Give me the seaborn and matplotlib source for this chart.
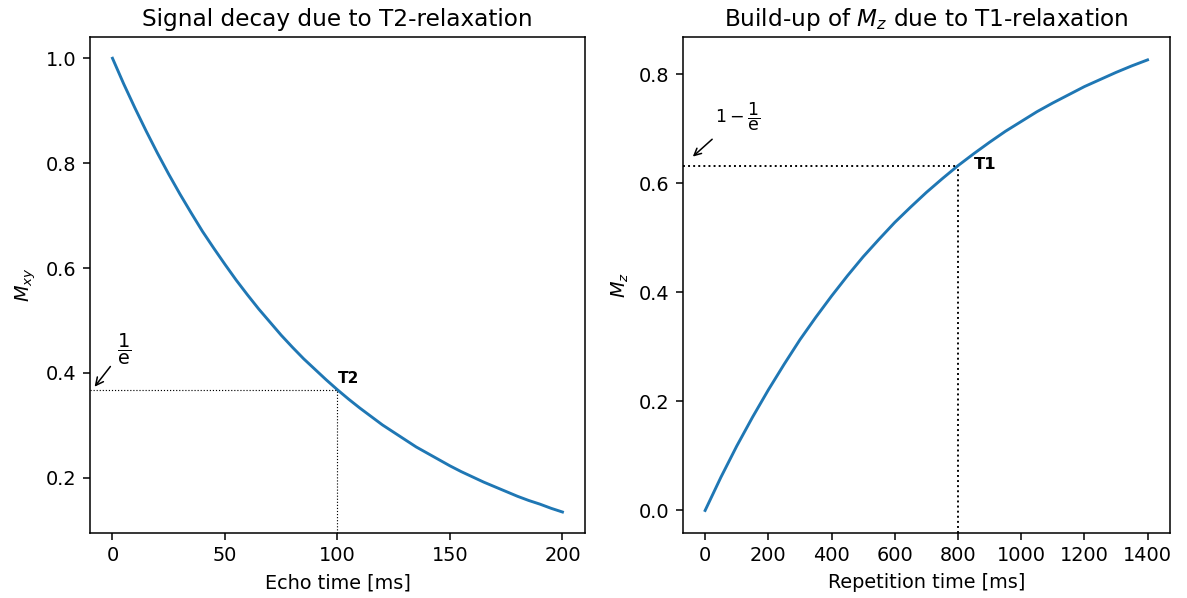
import matplotlib
matplotlib.use("Agg")
import matplotlib.pyplot as plt
import seaborn as sns
import pandas as pd

# Left panel: T2 decay
echo_time = [0, 5, 10, 15, 20, 25, 30, 35, 40, 45, 50, 55, 60, 65, 70, 75, 80, 85, 90, 95, 100,
             105, 110, 115, 120, 125, 130, 135, 140, 145, 150, 155, 160, 165, 170, 175, 180,
             185, 190, 195, 200]
m_xy = [1.000, 0.951, 0.905, 0.861, 0.819, 0.779, 0.741, 0.705, 0.670, 0.638, 0.607,
        0.577, 0.549, 0.522, 0.497, 0.472, 0.449, 0.427, 0.407, 0.387, 0.368,
        0.350, 0.333, 0.317, 0.301, 0.287, 0.273, 0.259, 0.247, 0.235, 0.223,
        0.212, 0.202, 0.192, 0.183, 0.174, 0.165, 0.157, 0.150, 0.142, 0.135]
T2 = 100
T2_level = 0.368

# Right panel: T1 recovery
rep_time = [0, 50, 100, 150, 200, 250, 300, 350, 400, 450, 500, 550, 600, 650, 700, 750, 800,
            850, 900, 950, 1000, 1050, 1100, 1150, 1200, 1250, 1300, 1350, 1400]
m_z = [0.000, 0.061, 0.118, 0.171, 0.221, 0.268, 0.313, 0.354, 0.393, 0.430, 0.465, 0.497,
       0.528, 0.556, 0.583, 0.608, 0.632, 0.654, 0.675, 0.695, 0.713, 0.731, 0.747, 0.762,
       0.777, 0.790, 0.803, 0.815, 0.826]
T1 = 800
T1_level = 0.632

df2 = pd.DataFrame({"t": echo_time, "m": m_xy})
df1 = pd.DataFrame({"t": rep_time, "m": m_z})

DPI = 138.5
fig = plt.figure(figsize=(1187 / DPI, 598 / DPI), dpi=DPI)
ax1 = fig.add_axes([0.0758, 0.1087, 0.417, 0.829])
ax2 = fig.add_axes([0.5754, 0.1087, 0.410, 0.829])

line_color = "#1f77b4"

# Left
sns.lineplot(data=df2, x="t", y="m", ax=ax1, color=line_color, linewidth=1.5)
ax1.set_xlim(-10, 210)
ax1.set_ylim(0.095, 1.04)
ax1.set_yticks([0.2, 0.4, 0.6, 0.8, 1.0])
ax1.set_xticks([0, 50, 100, 150, 200])
xmin1 = ax1.get_xlim()[0]
ymin1 = ax1.get_ylim()[0]
ax1.plot([xmin1, T2], [T2_level, T2_level], linestyle=":", color="black", linewidth=0.6)
ax1.plot([T2, T2], [ymin1, T2_level], linestyle=":", color="black", linewidth=0.6)
ax1.annotate(r"$\mathrm{\dfrac{1}{e}}$", xy=(-9, T2_level), xytext=(5, 0.445),
             fontsize=10, ha="center", va="center",
             arrowprops=dict(arrowstyle="->", color="black", lw=0.8))
ax1.text(T2, 0.375, "T2", fontsize=8, fontweight="bold", ha="left", va="bottom")
ax1.set_title("Signal decay due to T2-relaxation")
ax1.set_xlabel("Echo time [ms]")
ax1.set_ylabel(r"$M_{xy}$")

# Right
sns.lineplot(data=df1, x="t", y="m", ax=ax2, color=line_color, linewidth=1.5)
ax2.set_xlim(-70, 1470)
ax2.set_ylim(-0.0413, 0.8675)
ax2.set_yticks([0.0, 0.2, 0.4, 0.6, 0.8])
ax2.set_xticks([0, 200, 400, 600, 800, 1000, 1200, 1400])
xmin2 = ax2.get_xlim()[0]
ymin2 = ax2.get_ylim()[0]
ax2.plot([xmin2, T1], [T1_level, T1_level], linestyle=":", color="black", linewidth=1.0)
ax2.plot([T1, T1], [ymin2, T1_level], linestyle=":", color="black", linewidth=1.0)
ax2.annotate(r"$\mathrm{1 - \dfrac{1}{e}}$", xy=(-48, 0.644), xytext=(102, 0.722),
             fontsize=9, ha="center", va="center",
             arrowprops=dict(arrowstyle="->", color="black", lw=0.8))
ax2.text(850, 0.634, "T1", fontsize=8.5, fontweight="bold", ha="left", va="center")
ax2.set_title(r"Build-up of $M_z$ due to T1-relaxation")
ax2.set_xlabel("Repetition time [ms]")
ax2.set_ylabel(r"$M_z$")

fig.savefig("out.png", dpi=DPI)
